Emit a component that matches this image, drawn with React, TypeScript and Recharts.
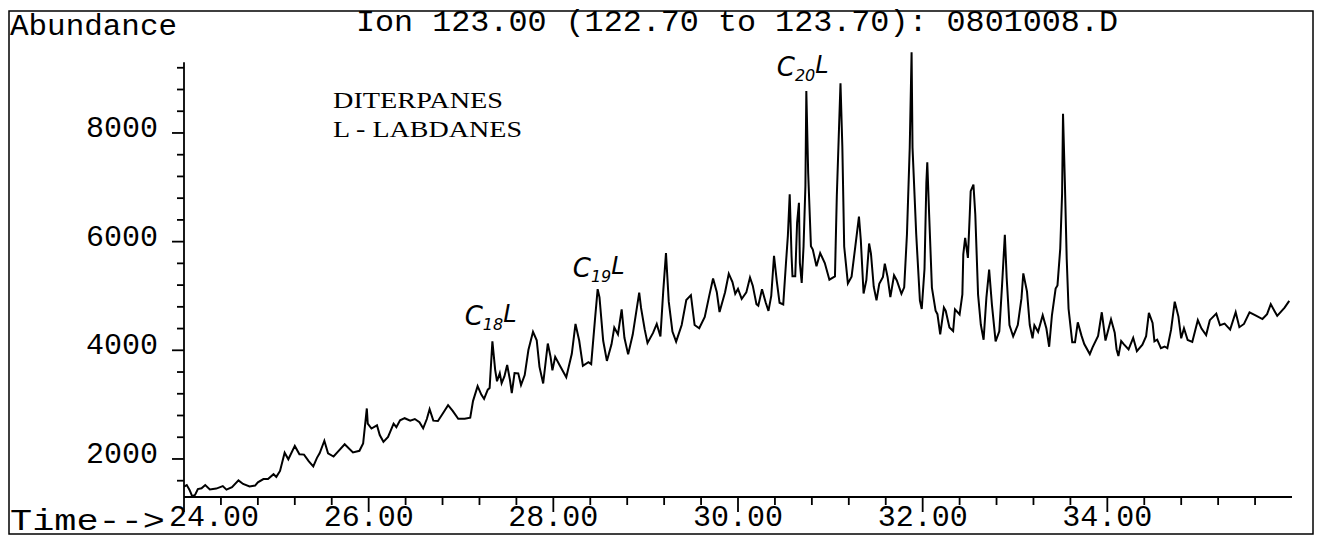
import React from 'react';
import { LineChart, Line, XAxis, YAxis, ReferenceLine, ReferenceDot } from 'recharts';

// Retention time (min)
const times = [
  24.00, 24.03, 24.06, 24.09, 24.12, 24.15, 24.19, 24.23, 24.28, 24.35,
  24.42, 24.46, 24.52, 24.59, 24.64, 24.71, 24.77, 24.80, 24.86, 24.91,
  24.97, 25.00, 25.04, 25.09, 25.13, 25.20, 25.25, 25.30, 25.35, 25.40,
  25.44, 25.47, 25.52, 25.56, 25.62, 25.67, 25.74, 25.83, 25.90, 25.94,
  25.98, 25.99, 26.03, 26.09, 26.12, 26.16, 26.21, 26.27, 26.30, 26.34,
  26.39, 26.45, 26.50, 26.55, 26.59, 26.63, 26.66, 26.70, 26.75, 26.81,
  26.86, 26.91, 26.97, 27.04, 27.10, 27.13, 27.18, 27.22, 27.25, 27.29,
  27.31, 27.34, 27.37, 27.39, 27.42, 27.44, 27.47, 27.50, 27.53, 27.55,
  27.58, 27.62, 27.65, 27.69, 27.73, 27.78, 27.82, 27.85, 27.89, 27.94,
  27.97, 27.99, 28.02, 28.07, 28.14, 28.20, 28.24, 28.28, 28.32, 28.38,
  28.41, 28.45, 28.48, 28.50, 28.54, 28.58, 28.63, 28.66, 28.70, 28.74,
  28.77, 28.81, 28.86, 28.93, 28.95, 28.99, 29.02, 29.08, 29.12, 29.16,
  29.19, 29.22, 29.25, 29.29, 29.33, 29.39, 29.44, 29.49, 29.53, 29.58,
  29.64, 29.69, 29.73, 29.77, 29.80, 29.86, 29.90, 29.94, 29.97, 30.00,
  30.04, 30.09, 30.13, 30.16, 30.20, 30.22, 30.26, 30.30, 30.33, 30.36,
  30.39, 30.42, 30.45, 30.49, 30.52, 30.54, 30.56, 30.58, 30.59, 30.62,
  30.64, 30.66, 30.67, 30.69, 30.71, 30.73, 30.74, 30.76, 30.79, 30.81,
  30.85, 30.89, 30.94, 30.99, 31.05, 31.07, 31.09, 31.11, 31.13, 31.15,
  31.19, 31.23, 31.27, 31.31, 31.33, 31.36, 31.39, 31.42, 31.44, 31.47,
  31.50, 31.53, 31.57, 31.59, 31.62, 31.65, 31.69, 31.72, 31.77, 31.80,
  31.83, 31.86, 31.88, 31.89, 31.93, 31.97, 31.99, 32.02, 32.04, 32.05,
  32.07, 32.10, 32.14, 32.16, 32.19, 32.23, 32.25, 32.29, 32.33, 32.35,
  32.40, 32.43, 32.44, 32.46, 32.49, 32.51, 32.52, 32.55, 32.57, 32.60,
  32.63, 32.66, 32.69, 32.72, 32.75, 32.79, 32.83, 32.86, 32.89, 32.91,
  32.94, 32.98, 33.03, 33.07, 33.09, 33.13, 33.16, 33.19, 33.21, 33.25,
  33.30, 33.34, 33.37, 33.40, 33.44, 33.46, 33.49, 33.51, 33.52, 33.54,
  33.56, 33.58, 33.62, 33.65, 33.68, 33.72, 33.75, 33.81, 33.84, 33.90,
  33.94, 33.98, 34.04, 34.08, 34.10, 34.12, 34.15, 34.18, 34.23, 34.28,
  34.32, 34.38, 34.42, 34.45, 34.49, 34.51, 34.54, 34.58, 34.62, 34.65,
  34.69, 34.73, 34.77, 34.80, 34.83, 34.87, 34.92, 34.98, 35.02, 35.07,
  35.11, 35.18, 35.22, 35.27, 35.33, 35.39, 35.43, 35.48, 35.54, 35.61,
  35.68, 35.73, 35.77, 35.81, 35.84, 35.92, 35.97,
];

// Ion 123 abundance
const abundance = [
  1490, 1520, 1430, 1310, 1340, 1445, 1460, 1520, 1440, 1455,
  1500, 1435, 1480, 1605, 1540, 1495, 1510, 1570, 1630, 1630,
  1720, 1670, 1780, 2115, 1995, 2240, 2085, 2080, 1960, 1865,
  2020, 2110, 2335, 2105, 2045, 2140, 2270, 2120, 2150, 2285,
  2930, 2650, 2560, 2620, 2440, 2315, 2405, 2650, 2585, 2710,
  2750, 2705, 2735, 2675, 2565, 2735, 2915, 2705, 2700, 2855,
  2990, 2885, 2740, 2740, 2760, 3065, 3340, 3185, 3105, 3275,
  3305, 4165, 3640, 3430, 3580, 3395, 3520, 3730, 3455, 3210,
  3580, 3575, 3360, 3545, 4005, 4340, 4185, 3695, 3390, 4125,
  3880, 3630, 3880, 3720, 3505, 3935, 4485, 4180, 3715, 3780,
  3745, 4545, 5125, 4975, 4175, 3805, 4110, 4420, 4295, 4755,
  4230, 3925, 4290, 5060, 4780, 4380, 4135, 4320, 4485, 4255,
  5080, 5790, 4895, 4345, 4160, 4465, 4925, 5015, 4465, 4405,
  4615, 5015, 5320, 5075, 4705, 5070, 5410, 5255, 5040, 5130,
  4945, 5065, 5340, 5190, 4850, 4820, 5125, 4880, 4725, 5000,
  5740, 5275, 4875, 4845, 5615, 6105, 6870, 5735, 5365, 5365,
  6345, 6715, 5610, 5240, 5915, 7020, 8770, 7265, 5915, 5855,
  5545, 5790, 5605, 5300, 5360, 6830, 7875, 8915, 7750, 5910,
  5230, 5355, 5905, 6460, 6030, 5045, 5290, 5965, 5780, 5170,
  4920, 5225, 5350, 5595, 5350, 4980, 5380, 5285, 5040, 5160,
  6140, 7735, 9485, 7735, 6140, 4915, 4760, 5500, 7090, 7460,
  6505, 5155, 4730, 4665, 4295, 4785, 4725, 4420, 4355, 4755,
  4660, 5030, 5765, 6070, 5700, 6500, 6930, 7050, 6500, 5025,
  4470, 4195, 4965, 5485, 4840, 4165, 4350, 5205, 6125, 5330,
  4465, 4255, 4465, 4955, 5415, 5080, 4465, 4220, 4460, 4340,
  4645, 4400, 4065, 4645, 5135, 5195, 5870, 6880, 8355, 7095,
  5685, 4765, 4150, 4150, 4515, 4270, 4115, 3930, 4055, 4265,
  4700, 4180, 4570, 4325, 4020, 3895, 4170, 4110, 4015, 4230,
  3985, 4105, 4260, 4690, 4505, 4165, 4195, 4040, 4070, 4040,
  4375, 4895, 4620, 4220, 4405, 4190, 4155, 4555, 4400, 4280,
  4555, 4675, 4460, 4490, 4380, 4700, 4425, 4485, 4700, 4640,
  4575, 4665, 4850, 4725, 4635, 4785, 4910,
];

const xMajorTicks = [24, 26, 28, 30, 32, 34];
const xMinorTicks = [
  24.4, 24.8, 25.2, 25.6, 26.4, 26.8, 27.2, 27.6, 28.4, 28.8, 29.2, 29.6,
  30.4, 30.8, 31.2, 31.6, 32.4, 32.8, 33.2, 33.6, 34.4, 34.8, 35.2, 35.6,
];
const yMajorTicks = [2000, 4000, 6000, 8000];
const yMinorTicks = [
  1600, 2400, 2800, 3200, 3600, 4400, 4800, 5200, 5600, 6400, 6800, 7200,
  7600, 8400, 8800, 9200,
];

const peakLabelCarbons = ['18', '19', '20'];
const peakLabelTimes = [27.04, 28.21, 30.42];
const peakLabelAbundance = [4470, 5350, 9050];

const titleText = 'Ion 123.00 (122.70 to 123.70): 0801008.D';
const yTitleText = 'Abundance';
const xTitleText = 'Time-->';
const noteLines = ['DITERPANES', 'L - LABDANES'];

const data = times.map((t, i) => ({ t, a: abundance[i] }));
const xTicks = [...xMajorTicks, ...xMinorTicks].sort((a, b) => a - b);
const yTicks = [...yMajorTicks, ...yMinorTicks].sort((a, b) => a - b);

const MONO = '"Liberation Mono", "DejaVu Sans Mono", monospace';
const SERIF = '"Liberation Serif", "DejaVu Serif", serif';
const HAND = '"DejaVu Sans", "Noto Sans", sans-serif';

const XTick = (props: any) => {
  const { x, y, payload } = props;
  const v = payload.value;
  const major = xMajorTicks.includes(v);
  const dx = v === xMajorTicks[0] ? 30 : 0;
  return (
    <g>
      <line x1={x} x2={x} y1={y} y2={y + (major ? 15 : 8)} stroke="#000" strokeWidth={1.8} />
      {major && (
        <text x={x + dx} y={y + 29} textAnchor="middle" fontFamily={MONO} fontSize={30} fill="#000">
          {v.toFixed(2)}
        </text>
      )}
    </g>
  );
};

const YTick = (props: any) => {
  const { x, y, payload } = props;
  const v = payload.value;
  const major = yMajorTicks.includes(v);
  return (
    <g>
      <line x1={x - (major ? 12 : 7)} x2={x} y1={y} y2={y} stroke="#000" strokeWidth={1.8} />
      {major && (
        <text x={x - 26} y={y + 4} textAnchor="end" fontFamily={MONO} fontSize={30} fill="#000">
          {String(v)}
        </text>
      )}
    </g>
  );
};

const makePeakLabel = (carbons: string) => (props: any) => {
  const { cx, cy } = props;
  return (
    <text x={cx} y={cy} fontFamily={HAND} fontStyle="italic" fontSize={26} fill="#000">
      C
      <tspan fontSize={16} dy={5}>{carbons}</tspan>
      <tspan fontSize={24} dy={-8}>L</tspan>
    </text>
  );
};

export default function App() {
  return (
    <div style={{ position: 'absolute', left: 0, top: 0, width: 1326, height: 539, background: '#fff' }}>
      <LineChart
        width={1326}
        height={539}
        data={data}
        margin={{ top: 40.6, right: 34, bottom: 2, left: 124 }}
      >
        <XAxis
          dataKey="t"
          type="number"
          domain={[24, 36]}
          ticks={xTicks}
          interval={0}
          height={40}
          tickSize={0}
          tickMargin={0}
          tickLine={false}
          axisLine={{ stroke: '#000', strokeWidth: 1.8 }}
          tick={<XTick />}
        />
        <YAxis
          type="number"
          domain={[1300, 9700]}
          ticks={yTicks}
          interval={0}
          width={60}
          tickSize={0}
          tickMargin={0}
          tickLine={false}
          axisLine={false}
          tick={<YTick />}
        />
        <ReferenceLine
          segment={[{ x: 24, y: 1300 }, { x: 24, y: 9300 }]}
          stroke="#000"
          strokeWidth={1.8}
          ifOverflow="visible"
        />
        <Line
          type="linear"
          dataKey="a"
          stroke="#000"
          strokeWidth={2}
          dot={false}
          isAnimationActive={false}
        />
        {peakLabelCarbons.map((c, i) => (
          <ReferenceDot
            key={c}
            x={peakLabelTimes[i]}
            y={peakLabelAbundance[i]}
            r={0}
            ifOverflow="visible"
            shape={makePeakLabel(c)}
          />
        ))}
      </LineChart>
      <svg
        width={1326}
        height={539}
        style={{ position: 'absolute', left: 0, top: 0, pointerEvents: 'none' }}
      >
        <rect x={9} y={11} width={1304} height={523} fill="none" stroke="#000" strokeWidth={1.5} />
        <text x={10} y={35} fontFamily={MONO} fontSize={30} textLength={167} lengthAdjust="spacingAndGlyphs" fill="#000">
          {yTitleText}
        </text>
        <text x={356} y={31} fontFamily={MONO} fontSize={30} textLength={762} lengthAdjust="spacingAndGlyphs" fill="#000">
          {titleText}
        </text>
        <text x={10} y={530} fontFamily={MONO} fontSize={30} textLength={155} lengthAdjust="spacingAndGlyphs" fill="#000">
          {xTitleText}
        </text>
        <text x={333} y={108} fontFamily={SERIF} fontSize={23} textLength={170} lengthAdjust="spacingAndGlyphs" fill="#000">
          {noteLines[0]}
        </text>
        <text x={333} y={137} fontFamily={SERIF} fontSize={23} textLength={189} lengthAdjust="spacingAndGlyphs" fill="#000">
          {noteLines[1]}
        </text>
      </svg>
    </div>
  );
}
